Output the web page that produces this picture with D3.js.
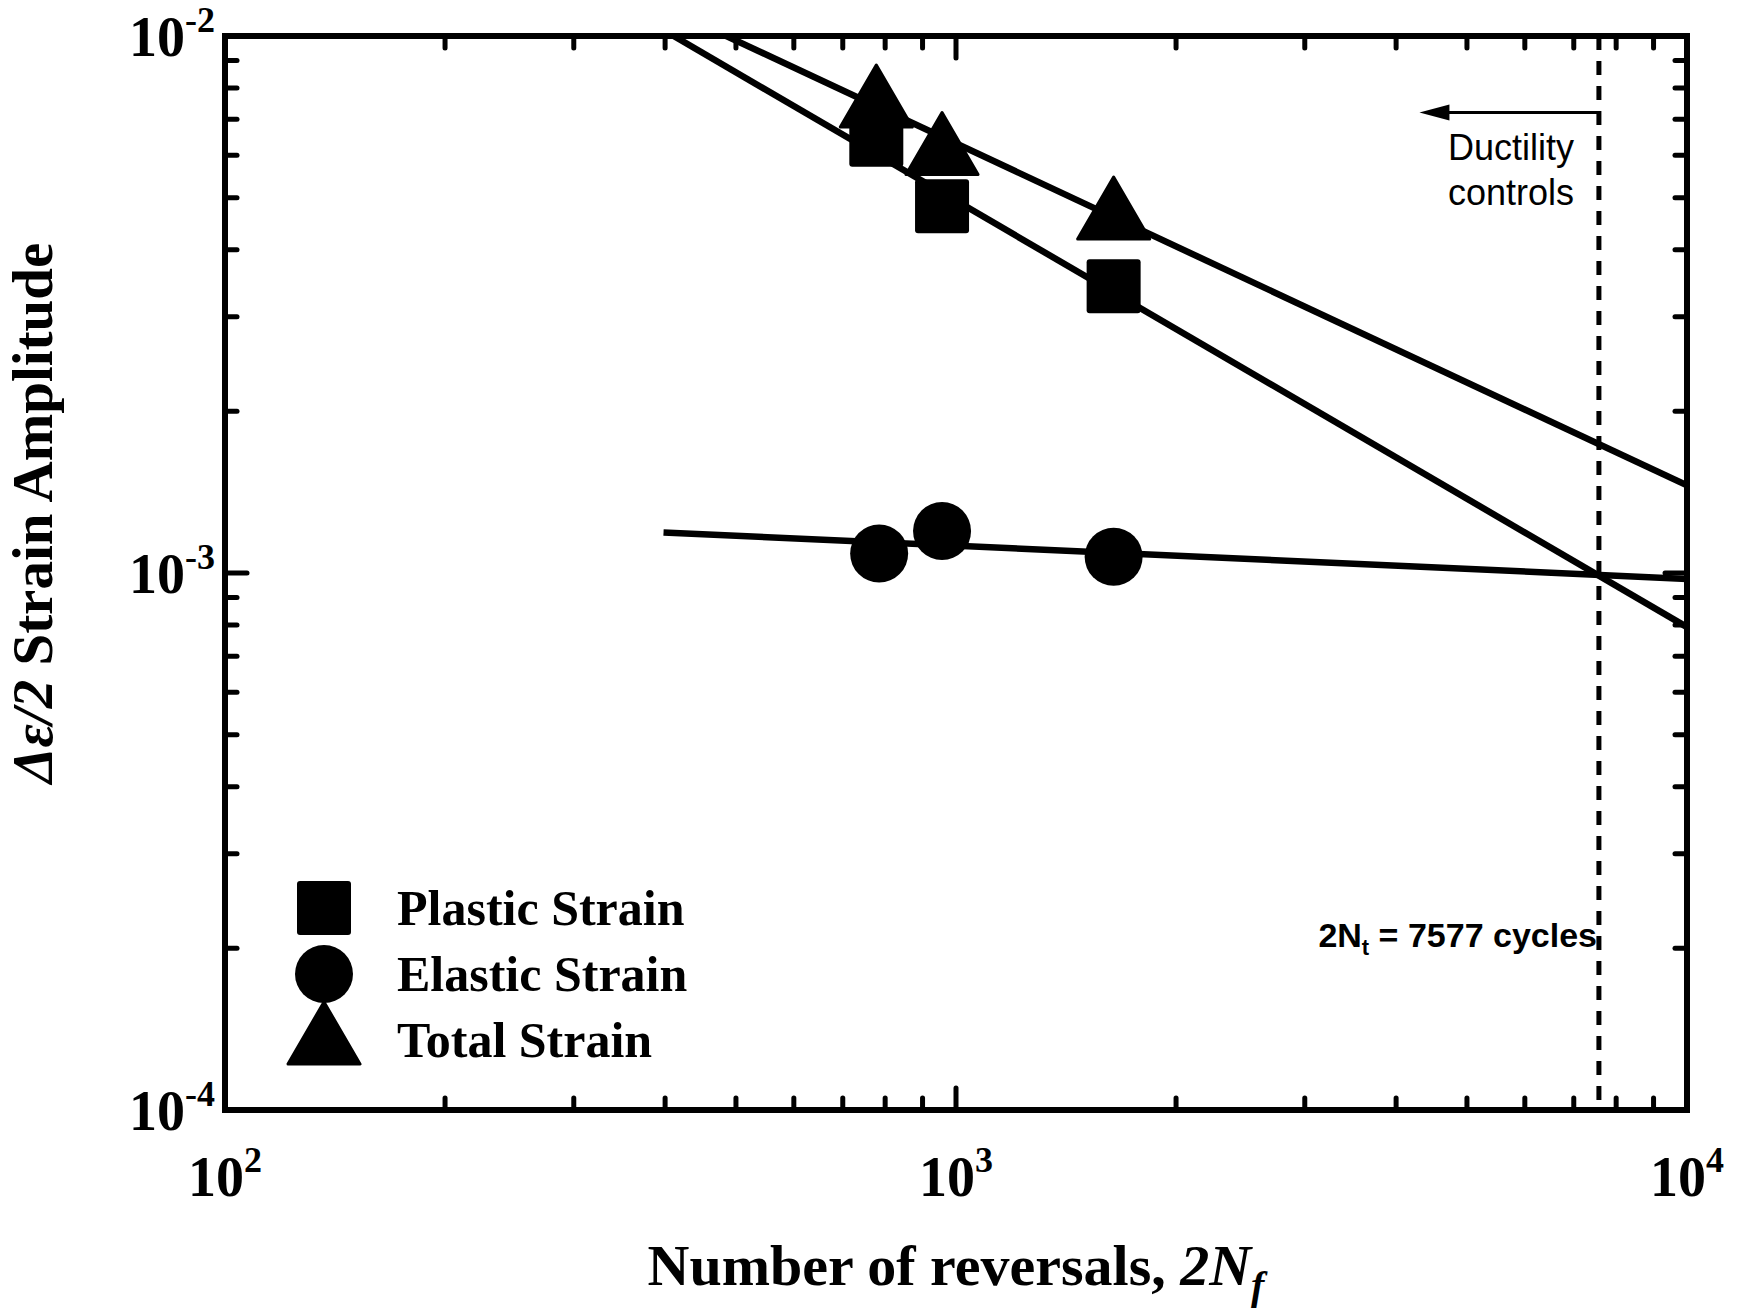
<!DOCTYPE html>
<html><head><meta charset="utf-8">
<script src="https://cdn.jsdelivr.net/npm/d3@7"></script>
<style>body{margin:0;background:#fff}</style></head>
<body><svg id="c" width="1746" height="1308"></svg>
<script>
const plasticPts = [[778,0.00641],[957,0.00482],[1643,0.00342]];
const elasticPts = [[785,0.001087],[957,0.001197],[1643,0.001072]];
const totalPts   = [[778,0.0075],[957,0.00612],[1643,0.00464]];
const plasticLine = [[411,0.01],[10000,0.000793]];
const totalLine   = [[485,0.01],[10000,0.001456]];
const elasticLine = [[398,0.00119],[10000,0.000975]];
const transition = 7577;
const arrowPts = [[7577,0.0072],[4305,0.0072]];
const xTickExp = [2,3,4];
const yTickExp = [-2,-3,-4];
const legendItems = [["square","Plastic Strain"],["circle","Elastic Strain"],["triangle","Total Strain"]];

const svg = d3.select("#c");
const L=225,R=1687,T=36,B=1110;
const x = d3.scaleLog().domain([100,10000]).range([L,R]);
const y = d3.scaleLog().domain([1e-4,1e-2]).range([B,T]);

const xt = [], yt=[];
for (let d=100; d<10000; d*=10) for (let k=1;k<10;k++) xt.push(d*k); xt.push(10000);
for (let d=1e-4; d<1e-2*0.999; d*=10) for (let k=1;k<10;k++) yt.push(d*k); yt.push(1e-2);
const isMajor = v => Math.abs(Math.log10(v)-Math.round(Math.log10(v)))<1e-6;
const g = svg.append("g").attr("stroke","#000").attr("stroke-width",5).attr("stroke-linecap","round");
xt.forEach(v=>{const len=isMajor(v)?22:12; const px=x(v);
  g.append("line").attr("x1",px).attr("x2",px).attr("y1",B).attr("y2",B-len);
  g.append("line").attr("x1",px).attr("x2",px).attr("y1",T).attr("y2",T+len);});
yt.forEach(v=>{const len=isMajor(v)?22:12; const py=y(v);
  g.append("line").attr("x1",L).attr("x2",L+len).attr("y1",py).attr("y2",py);
  g.append("line").attr("x1",R).attr("x2",R-len).attr("y1",py).attr("y2",py);});
svg.append("rect").attr("x",L).attr("y",T).attr("width",R-L).attr("height",B-T)
  .attr("fill","none").attr("stroke","#000").attr("stroke-width",6);

const tf = "'Liberation Serif','Times New Roman',serif";
xTickExp.forEach(e=>{
  const t=svg.append("text").attr("x",x(Math.pow(10,e))).attr("y",B+86).attr("text-anchor","middle")
    .attr("font-family",tf).attr("font-weight","bold").attr("font-size",56);
  t.append("tspan").text("10");
  t.append("tspan").attr("dy",-24).attr("font-size",36).text(e);
});
yTickExp.forEach(e=>{
  const t=svg.append("text").attr("x",L-10).attr("y",y(Math.pow(10,e))+20).attr("text-anchor","end")
    .attr("font-family",tf).attr("font-weight","bold").attr("font-size",56);
  t.append("tspan").text("10");
  t.append("tspan").attr("dy",-24).attr("font-size",36).text(e);
});

const xl=svg.append("text").attr("x",956).attr("y",1285).attr("text-anchor","middle")
  .attr("font-family",tf).attr("font-weight","bold").attr("font-size",58);
xl.append("tspan").text("Number of reversals, ");
xl.append("tspan").attr("font-style","italic").text("2N");
xl.append("tspan").attr("font-style","italic").attr("font-size",40).attr("dy",14).text("f");
const yl=svg.append("text").attr("transform","translate(52,513) rotate(-90)").attr("text-anchor","middle")
  .attr("font-family",tf).attr("font-weight","bold").attr("font-size",57);
yl.append("tspan").attr("font-style","italic").text("Δε/2");
yl.append("tspan").text(" Strain Amplitude");

const line = d3.line().x(d=>x(d[0])).y(d=>y(d[1]));
svg.append("clipPath").attr("id","cp").append("rect").attr("x",L).attr("y",T).attr("width",R-L).attr("height",B-T);
[plasticLine,totalLine,elasticLine].forEach(d=>svg.append("path").attr("d",line(d))
  .attr("clip-path","url(#cp)").attr("fill","none").attr("stroke","#000").attr("stroke-width",6.5));
svg.append("line").attr("x1",x(transition)).attr("x2",x(transition)).attr("y1",T).attr("y2",B)
  .attr("stroke","#000").attr("stroke-width",5).attr("stroke-dasharray","14,11");
svg.append("line").attr("x1",x(arrowPts[0][0])).attr("x2",x(arrowPts[1][0])+25)
  .attr("y1",y(arrowPts[0][1])).attr("y2",y(arrowPts[1][1])).attr("stroke","#000").attr("stroke-width",3);
const ax=x(arrowPts[1][0]), ay=y(arrowPts[1][1]);
svg.append("path").attr("d",`M${ax},${ay} L${ax+30},${ay-8} L${ax+30},${ay+8} Z`).attr("fill","#000");

function marker(type,cx,cy){
  if(type==="square") svg.append("rect").attr("x",cx-27).attr("y",cy-27).attr("width",54).attr("height",54).attr("rx",3).attr("fill","#000");
  else if(type==="circle") svg.append("ellipse").attr("cx",cx).attr("cy",cy).attr("rx",29).attr("ry",29).attr("fill","#000");
  else svg.append("path").attr("d",`M${cx},${cy-38} L${cx+36},${cy+24} L${cx-36},${cy+24} Z`).attr("fill","#000").attr("stroke","#000").attr("stroke-width",3).attr("stroke-linejoin","round");
}
plasticPts.forEach(d=>marker("square",x(d[0]),y(d[1])));
elasticPts.forEach(d=>marker("circle",x(d[0]),y(d[1])));
totalPts.forEach(d=>marker("triangle",x(d[0]),y(d[1])));

legendItems.forEach((d,i)=>{
  const cy=908+i*66;
  marker(d[0],324,cy);
  svg.append("text").attr("x",397).attr("y",cy+17).attr("font-family",tf).attr("font-weight","bold")
    .attr("font-size",50).text(d[1]);
});

const af="'Liberation Sans',Arial,sans-serif";
svg.append("text").attr("x",1511).attr("y",160).attr("text-anchor","middle").attr("font-family",af).attr("font-size",36).text("Ductility");
svg.append("text").attr("x",1511).attr("y",205).attr("text-anchor","middle").attr("font-family",af).attr("font-size",36).text("controls");
const nt=svg.append("text").attr("x",1597).attr("y",947).attr("text-anchor","end").attr("font-family",af).attr("font-weight","bold").attr("font-size",34);
nt.append("tspan").text("2N");
nt.append("tspan").attr("font-size",22).attr("dy",8).text("t");
nt.append("tspan").attr("dy",-8).text(" = 7577 cycles");
</script></body></html>
